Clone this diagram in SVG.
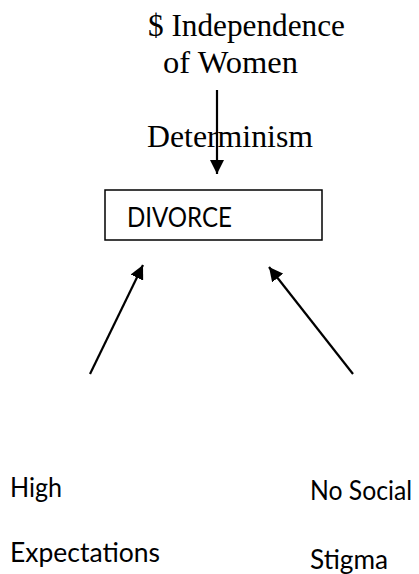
<svg xmlns="http://www.w3.org/2000/svg" width="419" height="574" viewBox="0 0 419 574">
<style>
.serif{font-family:"Liberation Serif","Times New Roman",serif;font-size:31px;fill:#000}
.sans{font-family:Lato,"Liberation Sans",sans-serif;font-size:26px;fill:#000}
.conn{stroke:#000;stroke-width:2.2;fill:none}
</style>
<defs>
<marker id="ah" viewBox="0 0 14 14" refX="14" refY="7" markerWidth="14" markerHeight="14" orient="auto" markerUnits="userSpaceOnUse">
<path d="M0,0 L14,7 L0,14 z" fill="#000"/>
</marker>
</defs>
<rect width="419" height="574" fill="#fff"/>
<g id="top-label">
<text class="serif" x="148" y="36" textLength="197" lengthAdjust="spacingAndGlyphs">$ Independence</text>
<text class="serif" x="163" y="73" textLength="135" lengthAdjust="spacingAndGlyphs">of Women</text>
</g>
<g id="determinism-label">
<text class="serif" x="147" y="147" textLength="166" lengthAdjust="spacingAndGlyphs">Determinism</text>
</g>
<g id="divorce">
<rect x="105" y="190" width="217" height="50" fill="none" stroke="#000" stroke-width="1.5"/>
<text class="sans" x="127" y="227" textLength="105" lengthAdjust="spacingAndGlyphs">DIVORCE</text>
</g>
<g id="high-expectations">
<text class="sans" x="10" y="497" textLength="52" lengthAdjust="spacingAndGlyphs">High</text>
<text class="sans" x="10" y="562" textLength="150" lengthAdjust="spacingAndGlyphs">Expectations</text>
</g>
<g id="no-social-stigma">
<text class="sans" x="310" y="500" textLength="102" lengthAdjust="spacingAndGlyphs">No Social</text>
<text class="sans" x="310" y="569" textLength="78" lengthAdjust="spacingAndGlyphs">Stigma</text>
</g>
<g id="connectors">
<line class="conn" x1="217" y1="90" x2="217" y2="174" marker-end="url(#ah)"/>
<line class="conn" x1="90" y1="374" x2="143" y2="265" marker-end="url(#ah)"/>
<line class="conn" x1="353" y1="374" x2="269" y2="267" marker-end="url(#ah)"/>
</g>
</svg>
